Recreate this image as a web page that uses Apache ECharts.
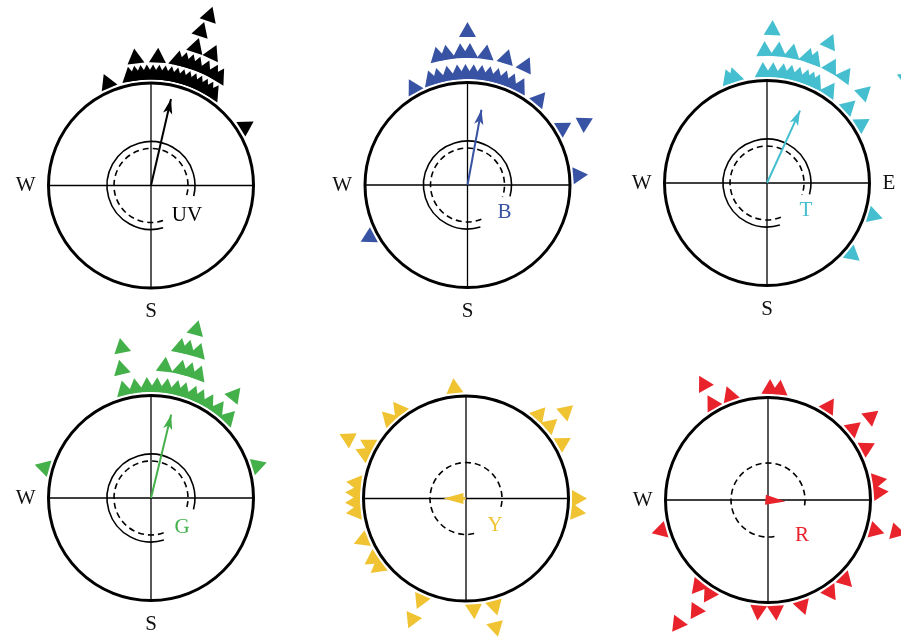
<!DOCTYPE html>
<html>
<head>
<meta charset="utf-8">
<script src="https://cdn.jsdelivr.net/npm/echarts@6/dist/echarts.min.js"></script>
<style>html,body{margin:0;padding:0;background:#fff}#chart{width:901px;height:639px}</style>
</head>
<body>
<div id="chart"></div>
<script>
// ---------- data ----------
const panelNames = ['UV', 'B', 'T', 'G', 'Y', 'R'];
// compass tick labels per panel, order: N, E, S, W
const compassLabels = [
  ['', '', 'S', 'W'],
  ['', '', 'S', 'W'],
  ['', 'E', 'S', 'W'],
  ['', '', 'S', 'W'],
  ['', '', '', ''],
  ['', '', '', 'W']
];
// observations: [bearing in degrees clockwise from N, stack level]
const uvPoints = [
  [337,1],[349,1],[352,1],[355,1],[358,1],[1,1],[4,1],[7,1],[10,1],[13,1],[16,1],[19,1],[22,1],[25,1],[28,1],[31,1],[34,1],[58,1],
  [353,2],[3,2],[12,2],[15,2],[18,2],[21,2],[25,2],[29,2],[32,2],
  [18,3],[25,3],
  [18,4],
  [19,5]
];
const bPoints = [
  [331,1],[341,1],[345,1],[350,1],[355,1],[359,1],[3,1],[7,1],[11,1],[15,1],[19,1],[23,1],[28,1],[40,1],[59,1],[85,1],[242,1],
  [347,2],[351,2],[357,2],[1,2],[8,2],[17,2],[26,2],[62,2],
  [0,3]
];
const tPoints = [
  [340,1],[343,1],[358,1],[3,1],[8,1],[12,1],[16,1],[20,1],[23,1],[26,1],[34,1],[47,1],[58,1],[107,1],[130,1],
  [359,2],[5,2],[11,2],[18,2],[21,2],[29,2],[36,2],[47,2],
  [2,3],[24,3],
  [53,4]
];
const gPoints = [
  [346,1],[352,1],[358,1],[3,1],[8,1],[13,1],[17,1],[22,1],[26,1],[31,1],[37,1],[44,1],[286,1],[73,1],
  [347,2],[6,2],[13,2],[17,2],[21,2],[39,2],
  [349,3],[11,3],[14,3],[18,3],
  [15,4]
];
const yPoints = [
  [354,1],[316,1],[323,1],[294,1],[299,1],[263,1],[268,1],[273,1],[278,1],[248,1],[232,1],[237,1],[204,1],[176,1],[165,1],[90,1],[97,1],[41,1],[49,1],[60,1],
  [297,2],[204,2],[167,2],[49,2]
];
const rPoints = [
  [330,1],[340,1],[1,1],[6,1],[33,1],[50,1],[62,1],[80,1],[86,1],[106,1],[136,1],[146,1],[162,1],[176,1],[185,1],[212,1],[219,1],[254,1],
  [331,2],[51,2],[104,2],[213,2],
  [216,3]
];
// mean vector: direction (deg) and length (fraction of radius)
const meanAngles  = [13, 10.5, 24.5, 13.6, 270, 95];
const meanLengths = [0.94, 0.82, 0.85, 0.91, 0.22, 0.17];

// ---------- layout & style ----------
const allPoints = [uvPoints, bPoints, tPoints, gPoints, yPoints, rPoints];
const colors = ['#000000', '#3953a4', '#45bfcf', '#43b04a', '#f0c332', '#e8232b'];
const centers = [[151,185.5],[467.5,185],[767,183],[151,498],[466,498.5],[768,500]];
const R = 102.5;
const ringBase = 113.5, ringGaps = [17, 21, 21, 21, 21, 21];
const nameOffsets = [[36,30],[37,27],[39,27],[31,29],[29,27],[34,35]];
const arcSets = [
  [{r:44, from:164, to:104, dash:false},{r:37, from:161, to:107, dash:true}],
  [{r:44, from:163, to:105, dash:false},{r:37, from:158, to:109, dash:true}],
  [{r:44, from:163, to:105, dash:false},{r:37, from:158, to:109, dash:true}],
  [{r:44, from:163, to:105, dash:false},{r:37, from:160, to:108, dash:true}],
  [{r:36, from:167, to:104, dash:true}],
  [{r:37, from:170, to:103, dash:true}]
];
const heads = [
  {sym:'arrow', w:7, h:15}, {sym:'arrow', w:7, h:15}, {sym:'arrow', w:7, h:15}, {sym:'arrow', w:7, h:15},
  {sym:'triangle', w:11, h:20}, {sym:'triangle', w:10, h:20}
];

const polar = [], angleAxis = [], radiusAxis = [], series = [], graphic = [];
panelNames.forEach((name, i) => {
  const color = colors[i];
  polar.push({center: centers[i], radius: R});
  angleAxis.push({
    polarIndex: i, type: 'value', min: 0, max: 360, interval: 90, startAngle: 90, clockwise: true,
    axisLine: {show: true, lineStyle: {color: '#000', width: 3}},
    axisTick: {show: false},
    splitLine: {show: true, lineStyle: {color: '#000', width: 1.3}},
    axisLabel: {
      show: true, margin: 13, fontFamily: 'Liberation Serif', fontSize: 21, color: '#111',
      formatter: v => compassLabels[i][Math.round(v / 90) % 4]
    }
  });
  radiusAxis.push({
    polarIndex: i, type: 'value', min: 0, max: 1,
    axisLine: {show: false}, axisTick: {show: false}, axisLabel: {show: false}, splitLine: {show: false}
  });
  // inner reference arcs
  series.push({
    type: 'custom', coordinateSystem: 'polar', polarIndex: i, silent: true, z: 3, clip: false,
    data: arcSets[i].map(a => [a.r / R, a.from, a.to < a.from ? a.to + 360 : a.to, a.dash ? 1 : 0]),
    renderItem: (params, api) => {
      const c = api.coord([0, 0]);
      const e = api.coord([api.value(0), 0]);
      const r = Math.hypot(e[0] - c[0], e[1] - c[1]);
      return {
        type: 'arc',
        shape: {cx: c[0], cy: c[1], r: r,
          startAngle: (api.value(1) - 90) * Math.PI / 180,
          endAngle: (api.value(2) - 90) * Math.PI / 180, clockwise: true},
        style: {stroke: '#000', fill: 'none', lineWidth: 1.6, lineDash: api.value(3) ? [6, 4] : null}
      };
    }
  });
  // observation triangles
  series.push({
    type: 'scatter', coordinateSystem: 'polar', polarIndex: i, silent: true, z: 4, clip: false,
    symbol: 'triangle', symbolSize: [17, 15],
    itemStyle: {color: color, opacity: 1},
    data: allPoints[i].map(([a, lvl]) => ({
      value: [(ringBase + (lvl - 1) * ringGaps[i]) / R, a],
      symbolRotate: -a
    }))
  });
  // mean vector arrow
  const hd = heads[i];
  const ang = meanAngles[i];
  series.push({
    type: 'line', coordinateSystem: 'polar', polarIndex: i, silent: true, z: 5, clip: false,
    symbol: 'circle', symbolSize: 0,
    lineStyle: {color: color, width: 2},
    itemStyle: {color: color},
    data: [
      {value: [0, ang], symbol: 'none'},
      {value: [meanLengths[i] - hd.h / 2 / R, ang], symbol: hd.sym, symbolSize: [hd.w, hd.h], symbolRotate: -ang}
    ]
  });
  graphic.push({
    type: 'text', x: centers[i][0] + nameOffsets[i][0], y: centers[i][1] + nameOffsets[i][1],
    style: {text: name, fill: color, font: '21px "Liberation Serif"', textAlign: 'center', textVerticalAlign: 'middle'}
  });
});

const chart = echarts.init(document.getElementById('chart'));
chart.setOption({
  animation: false,
  backgroundColor: '#fff',
  polar, angleAxis, radiusAxis, series, graphic
});
</script>
</body>
</html>
